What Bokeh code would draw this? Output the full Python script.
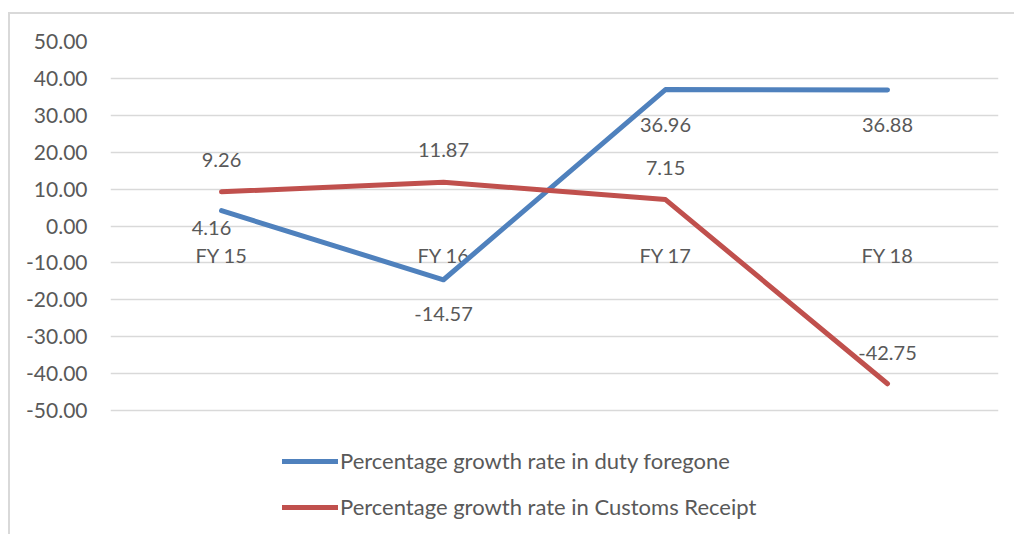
from bokeh.plotting import figure
from bokeh.models import (ColumnDataSource, Range1d, FactorRange, Legend, LegendItem,
                          NumeralTickFormatter, FixedTicker)
from bokeh.core.properties import value
from bokeh.embed import file_html
from bokeh.resources import INLINE

# ---- data ----
categories = ["FY 15", "FY 16", "FY 17", "FY 18"]
duty_foregone = [4.16, -14.57, 36.96, 36.88]
customs_receipt = [9.26, 11.87, 7.15, -42.75]
series_names = ["Percentage growth rate in duty foregone",
                "Percentage growth rate in Customs Receipt"]
y_ticks = [-50, -40, -30, -20, -10, 0, 10, 20, 30, 40, 50]
axis_cross = 0

# ---- styles ----
FONT = "Lato"
TXT = "#595959"
BLUE = "#4F81BD"
RED = "#C0504D"
GRID = "#D9D9D9"
blue_label_dy = [17, 34, 35, 35]     # screen px, positive = below
blue_label_dx = [-10, 0, 0, 0]
red_label_dy = [-32, -32, -32, -31]

PX_PER_UNIT = 369 / 100.0      # plot area: 100 units over 369 px
LEGEND_SPACE = 124             # px below the -50 line kept for the legend

# figure placed at page (8, 12); 2px CSS border left/top
p = figure(x_range=FactorRange(*categories),
           y_range=Range1d(-50 - LEGEND_SPACE / PX_PER_UNIT, 50),
           width=1004, height=520, frame_width=888, frame_height=493,
           min_border_left=100, min_border_right=16, min_border_top=27,
           min_border_bottom=0, output_backend="svg", toolbar_location=None,
           outline_line_color=None, x_axis_location=None)
p.margin = (12, 0, 0, 8)
p.styles = {"border-left": "2px solid #D9D9D9", "border-top": "2px solid #D9D9D9"}
p.background_fill_color = "white"
p.border_fill_color = "white"

# y axis
p.yaxis.ticker = FixedTicker(ticks=y_ticks)
p.yaxis.formatter = NumeralTickFormatter(format="0.00")
p.yaxis.axis_line_color = None
p.yaxis.major_tick_line_color = None
p.yaxis.minor_tick_line_color = None
p.yaxis.major_label_standoff = 17
p.yaxis.major_label_text_font = FONT
p.yaxis.major_label_text_font_size = "21px"
p.yaxis.major_label_text_color = TXT

p.xgrid.grid_line_color = None
p.ygrid.ticker = FixedTicker(ticks=y_ticks)
p.ygrid.grid_line_color = GRID
p.ygrid.grid_line_width = 1.3

# category labels sitting just under the zero line (axis crossing at 0)
p.text(x=categories, y=[axis_cross] * len(categories), text=categories,
       y_offset=29, text_align="center", text_baseline="middle",
       text_font=value(FONT), text_font_size="20px", text_color=TXT)

src = ColumnDataSource(dict(x=categories, a=duty_foregone, b=customs_receipt,
                            la=[f"{v:.2f}" for v in duty_foregone],
                            lb=[f"{v:.2f}" for v in customs_receipt],
                            ady=blue_label_dy, adx=blue_label_dx, bdy=red_label_dy))

r1 = p.line("x", "a", source=src, line_color=BLUE, line_width=5, line_cap="round", line_join="round")
r2 = p.line("x", "b", source=src, line_color=RED, line_width=5, line_cap="round", line_join="round")

p.text("x", "a", text="la", source=src, x_offset="adx", y_offset="ady",
       text_align="center", text_baseline="middle", text_font=value(FONT),
       text_font_size="20px", text_color=TXT)
p.text("x", "b", text="lb", source=src, y_offset="bdy",
       text_align="center", text_baseline="middle", text_font=value(FONT),
       text_font_size="20px", text_color=TXT)

legend = Legend(items=[LegendItem(label=series_names[0], renderers=[r1]),
                       LegendItem(label=series_names[1], renderers=[r2])],
                location=(172, 14), orientation="vertical",
                glyph_width=56, glyph_height=26, label_standoff=2, spacing=19,
                label_height=26,
                padding=0, margin=0, border_line_color=None, background_fill_alpha=0,
                label_text_font=FONT, label_text_font_size="22px", label_text_color=TXT)
p.add_layout(legend, "center")

open("out.html", "w").write(file_html(p, INLINE))
